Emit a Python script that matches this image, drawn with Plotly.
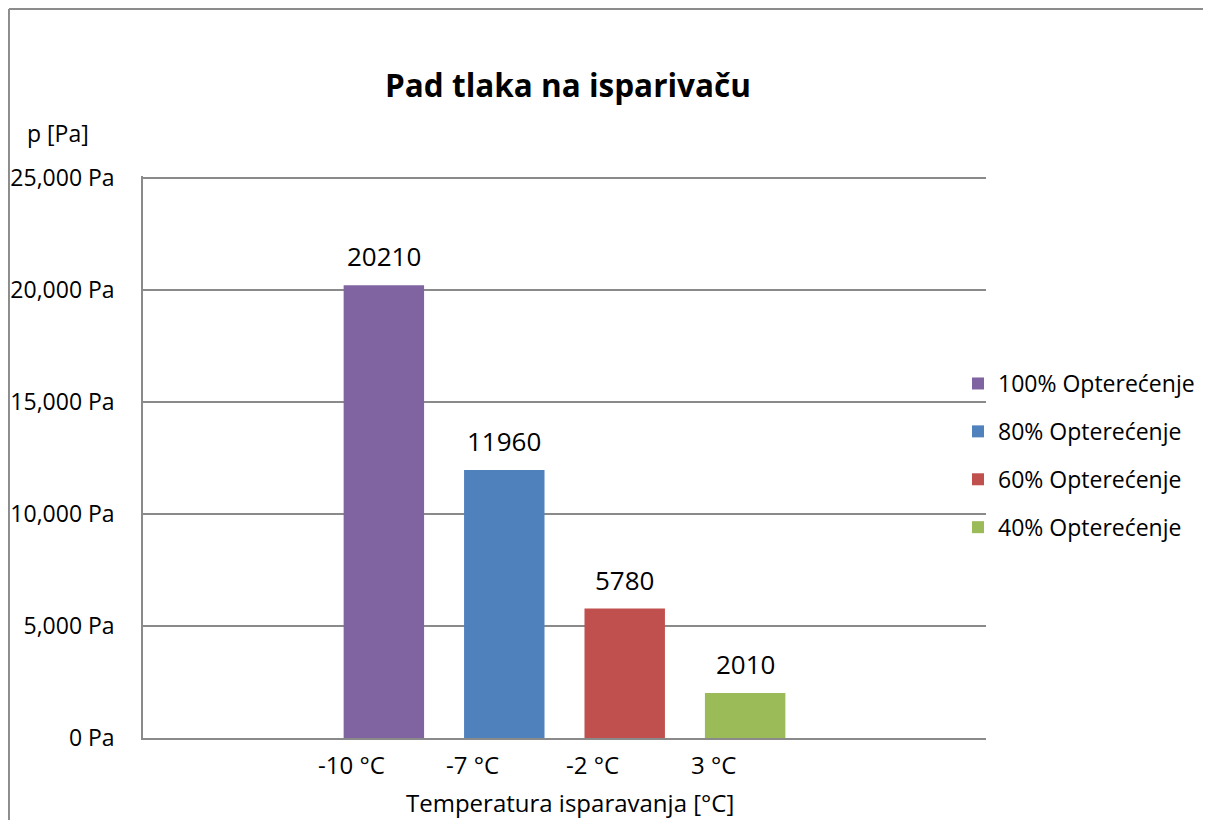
import plotly.graph_objects as go

# ---- data ----
temperatures = ["-10 °C", "-7 °C", "-2 °C", "3 °C"]
series_names = ["100% Opterećenje", "80% Opterećenje", "60% Opterećenje", "40% Opterećenje"]
pressure_drop = [20210, 11960, 5780, 2010]
colors = ["#8064A2", "#4F81BD", "#C0504D", "#9BBB59"]

FONT = "Open Sans"
GRID = "#8a8a8a"
BORDER = "#8c8c8c"

fig = go.Figure()
for t, name, val, col in zip(temperatures, series_names, pressure_drop, colors):
    fig.add_trace(go.Bar(
        x=[t], y=[val], name=name, marker_color=col, marker_line_width=0,
        width=0.668, legendgroup=name, hoverinfo="y",
    ))

annotations = []
# data labels above bars
for t, val in zip(temperatures, pressure_drop):
    annotations.append(dict(
        x=t, y=val, xref="x", yref="y", text=str(val), showarrow=False,
        yanchor="bottom", yshift=9, font=dict(family=FONT, size=26, color="black"),
    ))
# temperature labels below bars (text boxes, offset left)
for t in temperatures:
    annotations.append(dict(
        x=t, y=0, xref="x", yref="y", text=t, showarrow=False,
        yanchor="middle", xanchor="center", xshift=-32, yshift=-26,
        font=dict(family=FONT, size=24, color="black"),
    ))
# axis titles
annotations.append(dict(
    x=0.5065, y=-0.1139, xref="paper", yref="paper", text="Temperatura isparavanja [°C]",
    showarrow=False, xanchor="center", yanchor="middle",
    font=dict(family=FONT, size=24, color="black"),
))
annotations.append(dict(
    x=-0.1008, y=1.0765, xref="paper", yref="paper", text="p [Pa]",
    showarrow=False, xanchor="center", yanchor="middle",
    font=dict(family=FONT, size=23, color="black"),
))

fig.update_layout(
    width=1195, height=812, autosize=False,
    margin=dict(l=135, r=217, t=168, b=82, pad=0, autoexpand=False),
    paper_bgcolor="white", plot_bgcolor="white",
    barmode="overlay",
    font=dict(family=FONT, size=23, color="black"),
    title=dict(
        text="<b>Pad tlaka na isparivaču</b>", x=0.4686, xref="container", xanchor="center",
        y=0.9039, yref="container", yanchor="middle",
        font=dict(family=FONT, size=31.5, color="black"),
    ),
    showlegend=True,
    legend=dict(
        x=0.9668, y=0.669, xanchor="left", yanchor="top",
        traceorder="grouped", tracegroupgap=15,
        font=dict(family=FONT, size=23, color="black"),
        bgcolor="rgba(0,0,0,0)",
    ),
    annotations=annotations,
    shapes=[
        dict(type="line", xref="paper", yref="paper", x0=-0.159, x1=1.35, y0=1.2972, y1=1.2972,
             line=dict(color=BORDER, width=2), layer="below"),
        dict(type="line", xref="paper", yref="paper", x0=-0.159, x1=-0.159, y0=-0.30, y1=1.2972,
             line=dict(color=BORDER, width=2), layer="below"),
    ],
)

fig.update_xaxes(
    type="category", categoryorder="array", categoryarray=temperatures,
    range=[-2, 5], showticklabels=False, ticks="", automargin=False,
    showline=True, linecolor=GRID, linewidth=1.5, showgrid=False, zeroline=False,
)
fig.update_yaxes(
    range=[0, 25089], tick0=0, dtick=5000, tickformat=",", ticksuffix=" Pa",
    showgrid=True, gridcolor=GRID, gridwidth=1.5, automargin=False,
    showline=True, linecolor=GRID, linewidth=1.5, zeroline=False,
    ticks="", ticklabelstandoff=22, tickfont=dict(family=FONT, size=23, color="black"),
)

fig.write_html("out.html")
